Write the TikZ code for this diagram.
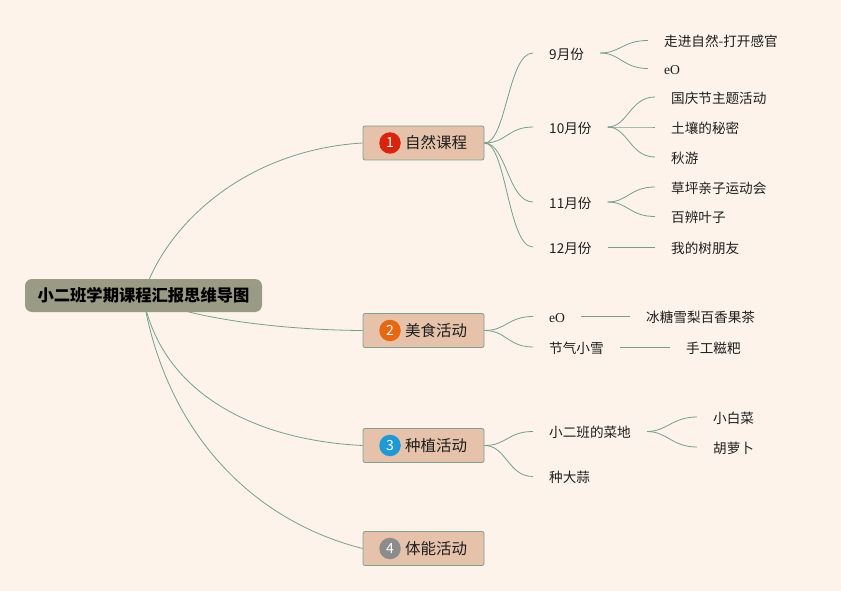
\documentclass[tikz,border=0pt]{standalone}
\usepackage{fontspec}
\setmainfont{Noto Sans CJK SC}
\newfontfamily\lserif{Liberation Serif}
\definecolor{bgc}{HTML}{FDF3EA}
\definecolor{linec}{HTML}{74A08C}
\definecolor{topicfill}{HTML}{E5C2A9}
\definecolor{topicdraw}{HTML}{7FA28F}
\definecolor{rootfill}{HTML}{9A9B84}
\definecolor{txt}{HTML}{1E1E1E}
\definecolor{cred}{HTML}{D9230B}
\definecolor{corange}{HTML}{E8670F}
\definecolor{cblue}{HTML}{1D9AD6}
\definecolor{cgray}{HTML}{8C8C8C}
\tikzset{
  conn/.style={draw=linec, line width=0.8pt},
  rootbox/.style={fill=rootfill, rounded corners=7pt, minimum width=237pt, minimum height=33pt, font=\fontsize{16.3}{19}\selectfont\bfseries, text=black, inner sep=0pt, text height=1.1em, text depth=0pt},
  topicbox/.style={fill=topicfill, draw=topicdraw, line width=0.8pt, rounded corners=2pt, minimum width=121pt, minimum height=34pt, inner sep=0pt},
  numc/.style={circle, minimum size=21.5pt, inner sep=0pt, text=white, font=\fontsize{14}{15}\selectfont},
  ttext/.style={anchor=west, inner sep=0pt, font=\fontsize{15.5}{18}\selectfont, text=txt, text height=1.2em, text depth=0pt},
  item/.style={anchor=west, inner xsep=16pt, inner ysep=0pt, text height=1.25em, text depth=0pt, font=\fontsize{13.6}{16}\selectfont, text=txt}
}
\begin{document}
\begin{tikzpicture}[x=1pt,y=-1pt]
\useasboundingbox[fill=bgc] (0,0) rectangle (841,591);
% topics
\node[topicbox] (t1) at (423.5,143) {};
\node[topicbox] (t2) at (423.5,330.5) {};
\node[topicbox] (t3) at (423.5,445.5) {};
\node[topicbox] (t4) at (423.5,548.5) {};
\node[numc, fill=cred] (n1) at (390,143) {1};
\node[numc, fill=corange] (n2) at (390,330.5) {2};
\node[numc, fill=cblue] (n3) at (390,445.5) {3};
\node[numc, fill=cgray] (n4) at (390,548.5) {4};
\node[ttext] (x1) at (405,143) {自然课程};
\node[ttext] (x2) at (405,330.5) {美食活动};
\node[ttext] (x3) at (405,445.5) {种植活动};
\node[ttext] (x4) at (405,548.5) {体能活动};
% root connectors (drawn before root so root hides their start)
\coordinate (rc) at (143,296);
\draw[conn] (rc) .. controls (165,225) and (245,150) .. (t1.west);
\draw[conn] (rc) .. controls (185,318) and (280,330) .. (t2.west);
\draw[conn] (rc) .. controls (160,390) and (250,440) .. (t3.west);
\draw[conn] (rc) .. controls (165,430) and (250,520) .. (t4.west);
\node[rootbox] (root) at (143.5,295.5) {小二班学期课程汇报思维导图};
% subtopics
\node[item] (s9) at (533,53) {9月份};
\node[item] (s10) at (533,127) {10月份};
\node[item] (s11) at (533,202) {11月份};
\node[item] (s12) at (533,247) {12月份};
\node[item] (sa) at (533,316.5) {\lserif eO};
\node[item] (sb) at (533,347) {节气小雪};
\node[item] (sc) at (533,431.5) {小二班的菜地};
\node[item] (sd) at (533,476.5) {种大蒜};
% leaves
\node[item] (l1) at (648,40.5) {走进自然-打开感官};
\node[item] (l2) at (648,68.5) {\lserif eO};
\node[item] (l3) at (655,97) {国庆节主题活动};
\node[item] (l4) at (655,127) {土壤的秘密};
\node[item] (l5) at (655,157) {秋游};
\node[item] (l6) at (655,187) {草坪亲子运动会};
\node[item] (l7) at (655,216.5) {百辨叶子};
\node[item] (l8) at (655,247) {我的树朋友};
\node[item] (l9) at (630,316.5) {冰糖雪梨百香果茶};
\node[item] (l10) at (670,347) {手工糍粑};
\node[item] (l11) at (697,417) {小白菜};
\node[item] (l12) at (697,447) {胡萝卜};
% topic -> subtopic
\foreach \s in {s9,s10,s11,s12}{\draw[conn] (t1.east) .. controls +(22,0) and +(-25,0) .. (\s.west);}
\foreach \s in {sa,sb}{\draw[conn] (t2.east) .. controls +(22,0) and +(-25,0) .. (\s.west);}
\foreach \s in {sc,sd}{\draw[conn] (t3.east) .. controls +(22,0) and +(-25,0) .. (\s.west);}
% subtopic -> leaves
\foreach \l in {l1,l2}{\draw[conn] (s9.east) .. controls +(20,0) and +(-25,0) .. (\l.west);}
\foreach \l in {l3,l4,l5}{\draw[conn] (s10.east) .. controls +(20,0) and +(-25,0) .. (\l.west);}
\foreach \l in {l6,l7}{\draw[conn] (s11.east) .. controls +(20,0) and +(-25,0) .. (\l.west);}
\draw[conn] (s12.east) -- (l8.west);
\draw[conn] (sa.east) -- (l9.west);
\draw[conn] (sb.east) -- (l10.west);
\foreach \l in {l11,l12}{\draw[conn] (sc.east) .. controls +(20,0) and +(-25,0) .. (\l.west);}
\end{tikzpicture}
\end{document}
